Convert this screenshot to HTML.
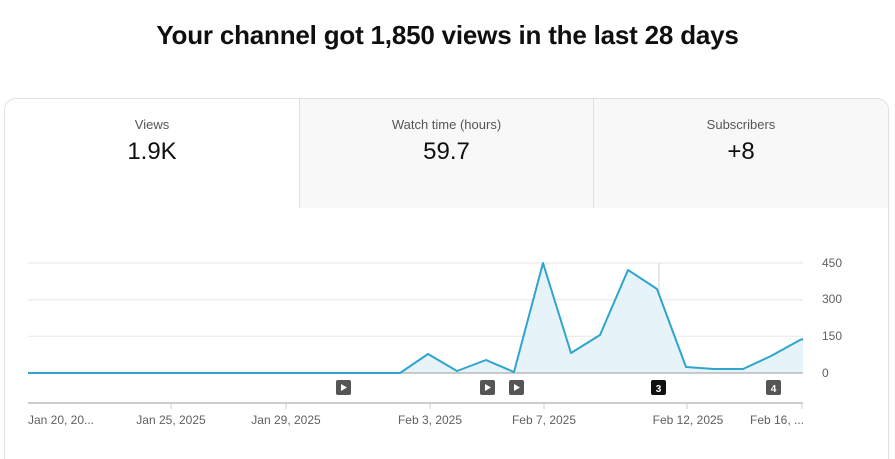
<!DOCTYPE html>
<html style="width:895px;height:459px;overflow:hidden"><head><meta charset="utf-8"><style>
body{margin:0;width:895px;height:459px;background:#fff;font-family:"Liberation Sans",Arial,sans-serif;overflow:hidden;position:relative}
h1{position:absolute;top:20px;left:0;width:895px;text-align:center;margin:0;font-size:26px;font-weight:bold;color:#0f0f0f;letter-spacing:-0.2px}
.card{position:absolute;left:4px;top:98px;width:883px;height:361px;border:1px solid #e0e0e0;border-bottom:none;border-radius:12px 12px 0 0;overflow:hidden;background:#fff}
.tab{position:absolute;top:0;height:109px;text-align:center;box-sizing:border-box}
.lab{font-size:13px;color:#555;margin-top:18px}
.val{font-size:24px;color:#0f0f0f;margin-top:6px}
</style></head><body>
<h1>Your channel got 1,850 views in the last 28 days</h1>
<div class="card">
<div class="tab" style="left:0;width:294px;background:#fff"><div class="lab">Views</div><div class="val">1.9K</div></div>
<div class="tab" style="left:294px;width:295px;background:#f8f8f8;border-left:1px solid #e0e0e0;border-right:1px solid #e0e0e0"><div class="lab">Watch time (hours)</div><div class="val">59.7</div></div>
<div class="tab" style="left:589px;width:294px;background:#f8f8f8"><div class="lab">Subscribers</div><div class="val">+8</div></div>
</div>
<svg style="position:absolute;left:0;top:0" width="895" height="459">
<g stroke="#e6e6e6" stroke-width="1">
<line x1="28" x2="803" y1="263" y2="263"/><line x1="28" x2="803" y1="299.7" y2="299.7"/><line x1="28" x2="803" y1="336.3" y2="336.3"/>
</g>
<line x1="659" x2="659" y1="263" y2="373" stroke="#d0d0d0"/>
<polygon fill="#e6f4f9" points="28,373 400,373 428,354 457,371 486,360 514,372 543,263 571,353 600,335 628,270 657,289 686,367 714,369 743,369 771,356 800,340 803,340 803,373"/>
<line x1="28" x2="803" y1="373" y2="373" stroke="#999" stroke-width="1"/>
<polyline fill="none" stroke="#2ea4cf" stroke-width="2" stroke-linejoin="round" points="28,373 400,373 428,354 457,371 486,360 514,372 543,263 571,353 600,335 628,270 657,289 686,367 714,369 743,369 771,356 800,340 803,339"/>
<g font-size="12" fill="#606060">
<text x="822" y="267">450</text><text x="822" y="303">300</text><text x="822" y="340">150</text><text x="822" y="377">0</text>
</g>
<line x1="28" x2="803" y1="403" y2="403" stroke="#ccc" stroke-width="2"/>
<g stroke="#ccc"><line x1="171" x2="171" y1="403" y2="409"/><line x1="286" x2="286" y1="403" y2="409"/><line x1="430" x2="430" y1="403" y2="409"/><line x1="544" x2="544" y1="403" y2="409"/><line x1="687" x2="687" y1="403" y2="409"/><line x1="802" x2="802" y1="403" y2="409"/></g>
<g font-size="12" fill="#606060" text-anchor="middle">
<text x="61" y="424">Jan 20, 20...</text><text x="171" y="424">Jan 25, 2025</text><text x="286" y="424">Jan 29, 2025</text><text x="430" y="424">Feb 3, 2025</text><text x="544" y="424">Feb 7, 2025</text><text x="688" y="424">Feb 12, 2025</text><text x="777" y="424">Feb 16, ...</text>
</g>
<g>
<rect x="336" y="380" width="15" height="15" rx="2" fill="#555"/><polygon points="341,384 341,391 347,387.5" fill="#fff"/>
<rect x="480" y="380" width="15" height="15" rx="2" fill="#555"/><polygon points="485,384 485,391 491,387.5" fill="#fff"/>
<rect x="509" y="380" width="15" height="15" rx="2" fill="#555"/><polygon points="514,384 514,391 520,387.5" fill="#fff"/>
<rect x="651" y="380" width="15" height="15" rx="2" fill="#111"/><text x="658.5" y="392" font-size="10" font-weight="bold" fill="#fff" text-anchor="middle">3</text>
<rect x="766" y="380" width="15" height="15" rx="2" fill="#555"/><text x="773.5" y="392" font-size="10" font-weight="bold" fill="#fff" text-anchor="middle">4</text>
</g>
</svg>
</body></html>
